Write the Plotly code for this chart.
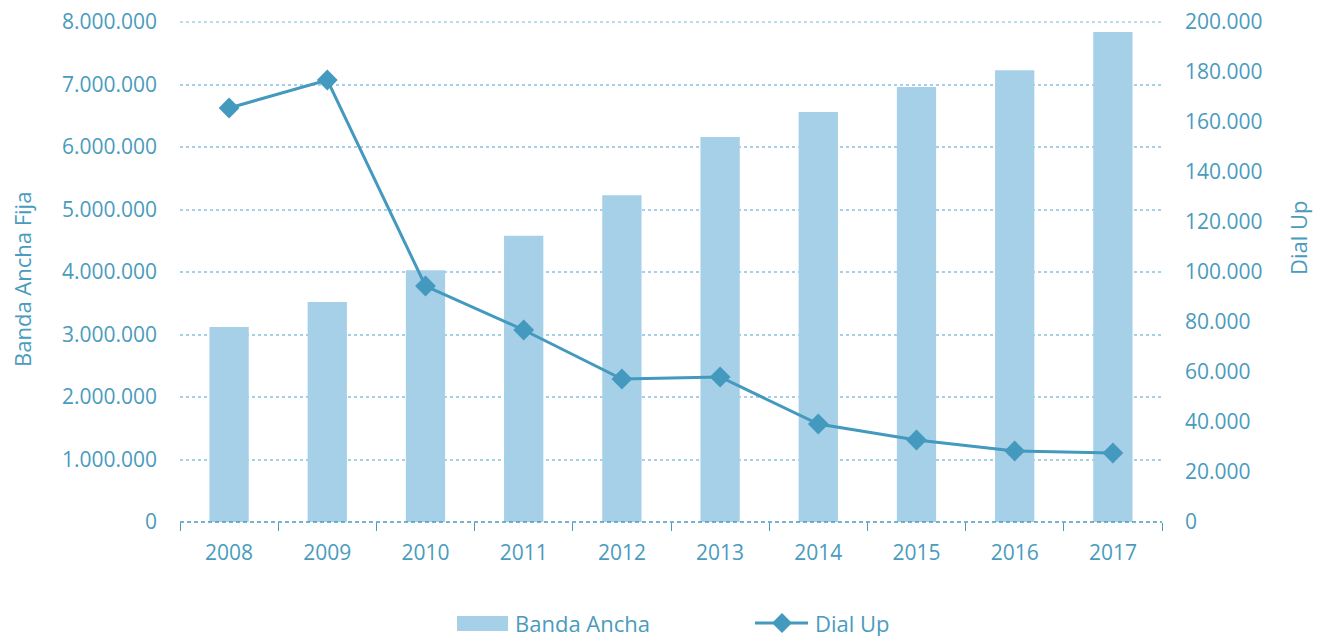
import plotly.graph_objects as go

years = ["2008", "2009", "2010", "2011", "2012", "2013", "2014", "2015", "2016", "2017"]
banda_ancha = [3120000, 3520000, 4030000, 4580000, 5230000, 6160000, 6560000, 6960000, 7230000, 7840000]
dial_up = [165600, 176800, 94400, 76800, 57200, 58000, 39200, 32800, 28400, 27600]

TXT = "#4a9bbd"
BAR = "#a6cfe8"
LINE = "#4399be"
FONT = "Open Sans"

OFF = 8  # page body margin
W, H = 1323, 636
# target plot area in screen pixels: x 180..1162, y 22..522
L, T = 180 - OFF, 22 - OFF
R = W - (1162 - OFF)
B = H - (522 - OFF)
PW, PH = W - L - R, H - T - B


def px(x):
    return (x - OFF - L) / PW


def py(y):
    return (H - B - (y - OFF)) / PH


fig = go.Figure()
fig.add_trace(go.Bar(x=years, y=banda_ancha, name="Banda Ancha", marker_color=BAR,
                     marker_line_width=0, width=0.4))
fig.add_trace(go.Scatter(x=years, y=dial_up, name="Dial Up", yaxis="y2", mode="lines+markers",
                         line=dict(color=LINE, width=3),
                         marker=dict(symbol="diamond", size=16, color=LINE)))

fig.update_layout(
    width=W, height=H,
    margin=dict(l=L, r=R, t=T, b=B),
    plot_bgcolor="white", paper_bgcolor="white",
    separators=",.",
    font=dict(family=FONT, size=21, color=TXT),
    showlegend=False,
    xaxis=dict(type="category", range=[-0.5, len(years) - 0.5], showline=False, showgrid=False,
               ticks="outside", tickson="boundaries", ticklen=8, tickcolor=TXT, tickwidth=1,
               tickfont=dict(size=21, color=TXT), ticklabelstandoff=16, automargin=False),
    yaxis=dict(range=[0, 8000000], dtick=1000000, tickformat=",d", showgrid=True,
               gridcolor=BAR, griddash="dot", gridwidth=1.5, zeroline=False,
               showline=False, ticks="", ticklabelstandoff=22, automargin=False,
               ticklabeloverflow="allow", tickfont=dict(size=21, color=TXT)),
    yaxis2=dict(range=[0, 200000], dtick=20000, tickformat=",d", overlaying="y", side="right",
                showgrid=False, zeroline=False, showline=False, ticks="", ticklabelstandoff=22,
                automargin=False, ticklabeloverflow="allow", tickfont=dict(size=21, color=TXT)),
)

# top gridline (at range edge) and dashed category axis line
fig.add_shape(type="line", xref="paper", yref="paper", x0=0, x1=1, y0=1, y1=1, layer="below",
              line=dict(color=BAR, width=1.5, dash="dot"))
fig.add_shape(type="line", xref="paper", yref="paper", x0=0, x1=1, y0=0, y1=0,
              line=dict(color=TXT, width=1.3, dash="4px,3px"))

# axis titles
fig.add_annotation(text="Banda Ancha Fija", xref="paper", yref="paper", x=px(22), y=py(280),
                   textangle=-90, showarrow=False, font=dict(size=22, color=TXT), borderpad=0,
                   xanchor="center", yanchor="middle")
fig.add_annotation(text="Dial Up", xref="paper", yref="paper", x=px(1298), y=py(238),
                   textangle=-90, showarrow=False, font=dict(size=22, color=TXT), borderpad=0,
                   xanchor="center", yanchor="middle")

# legend (drawn manually to match wide bar swatch)
LY = 623
fig.add_shape(type="rect", xref="paper", yref="paper", x0=px(457), x1=px(508),
              y0=py(LY + 8), y1=py(LY - 7), fillcolor=BAR, line_width=0)
fig.add_annotation(text="Banda Ancha", xref="paper", yref="paper", x=px(513), y=py(LY),
                   showarrow=False, font=dict(size=22, color=TXT), xanchor="left", yanchor="middle")
fig.add_shape(type="line", xref="paper", yref="paper", x0=px(755), x1=px(808),
              y0=py(LY), y1=py(LY), line=dict(color=LINE, width=3))
cx, cy, d = 782, LY, 10
fig.add_shape(type="path", xref="paper", yref="paper",
              path=f"M {px(cx - d)} {py(cy)} L {px(cx)} {py(cy - d)} L {px(cx + d)} {py(cy)} L {px(cx)} {py(cy + d)} Z",
              fillcolor=LINE, line_width=0)
fig.add_annotation(text="Dial Up", xref="paper", yref="paper", x=px(813), y=py(LY),
                   showarrow=False, font=dict(size=22, color=TXT), xanchor="left", yanchor="middle")

fig.write_html("out.html")
